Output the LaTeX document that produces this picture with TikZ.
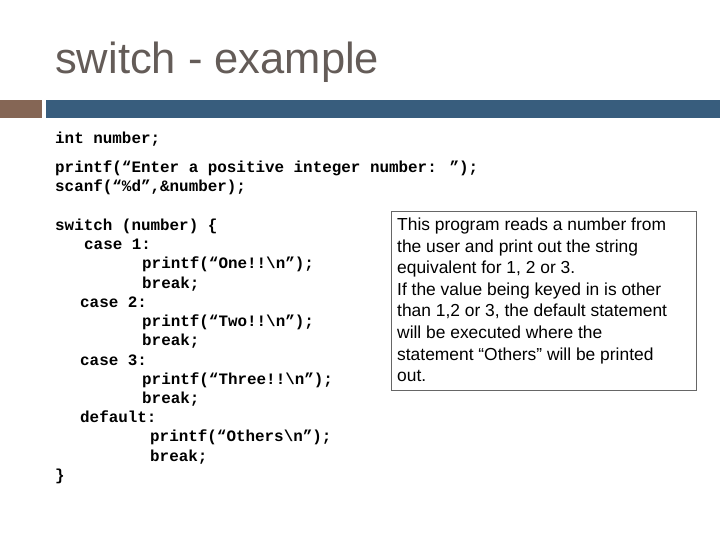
\documentclass[tikz,border=0pt]{standalone}
\usepackage{fontspec}
\setmainfont{Liberation Sans}
\newfontfamily\codefont{Liberation Mono}
\begin{document}
\begin{tikzpicture}[x=1pt,y=-1pt,
  code/.style={anchor=base west,inner sep=0pt,font=\codefont\bfseries\fontsize{15.9}{19}\selectfont},
  expl/.style={anchor=base west,inner sep=0pt,font=\fontsize{17.4}{19}\selectfont}]
\useasboundingbox (0,0) rectangle (720,540);
\node[anchor=base west,inner sep=0pt,text={rgb,255:red,100;green,92;blue,88},font=\fontsize{43.5}{46}\selectfont] (title) at (55,74) {switch - example};
\fill[fill={rgb,255:red,133;green,102;blue,85}] (0,100) rectangle (42,118);
\fill[fill={rgb,255:red,56;green,93;blue,125}] (46,100) rectangle (720,118);
\foreach \x/\y/\t [count=\i] in {
 55/144/{int number;},
 55/173/{printf(“Enter a positive integer number: ”);},
 55/192/{scanf(“\%d”,\&number);},
 55/230/{switch (number) \{},
 84/249/{case 1:},
 142/268/{printf(“One!!\textbackslash n”);},
 142/288/{break;},
 80/307/{case 2:},
 142/326/{printf(“Two!!\textbackslash n”);},
 142/345/{break;},
 80/365/{case 3:},
 142/384/{printf(“Three!!\textbackslash n”);},
 142/403/{break;},
 80/422/{default:},
 150/441/{printf(“Others\textbackslash n”);},
 150/461/{break;},
 55/480/{\}}}
 \node[code] (c\i) at (\x,\y) {\t};
\draw[black!60,line width=0.8pt] (391,211) rectangle (696,390);
\foreach \y/\t [count=\i] in {
 230/{This program reads a number from},
 252/{the user and print out the string},
 273/{equivalent for 1, 2 or 3.},
 295/{If the value being keyed in is other},
 316/{than 1,2 or 3, the default statement},
 338/{will be executed where the},
 360/{statement “Others” will be printed},
 381/{out.}}
 \node[expl] (e\i) at (397,\y) {\t};
\end{tikzpicture}
\end{document}
